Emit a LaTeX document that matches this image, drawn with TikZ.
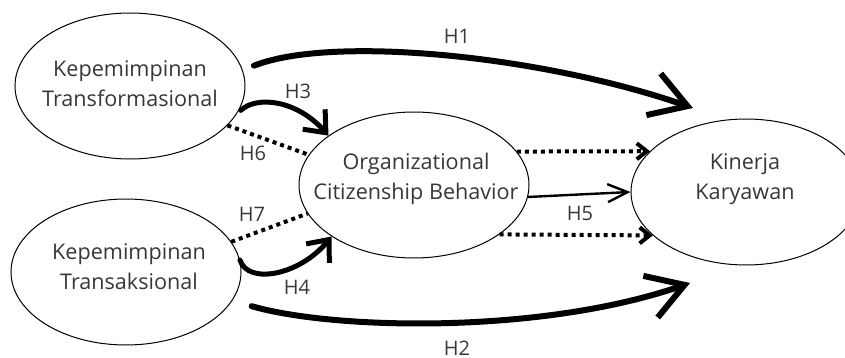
\documentclass[tikz,border=0pt]{standalone}
\usepackage{fontspec}
\setmainfont{Open Sans}
\usetikzlibrary{arrows.meta, shapes.geometric}

\begin{document}
\begin{tikzpicture}[x=0.5pt, y=-0.5pt,
    var/.style={draw, ellipse, line width=0.5pt, minimum width=115pt, minimum height=73pt, inner sep=0pt},
    vartext/.style={align=center, text={rgb, 255:red, 55; green, 55; blue, 55}, font=\fontsize{10.8}{15}\selectfont, inner sep=0pt},
    hyp/.style={text={rgb, 255:red, 55; green, 55; blue, 55}, font=\fontsize{10}{12}\selectfont, inner sep=0.75pt},
    bigarrow/.style={line width=3pt, line cap=round, -{Straight Barb[length=18pt, width=22pt]}},
    midarrow/.style={line width=2.5pt, line cap=round, -{Straight Barb[length=9pt, width=15pt]}},
    thinarrow/.style={line width=1.2pt, -{Straight Barb[length=10pt, width=9pt]}},
    dotarrow/.style={line width=2pt, dash pattern=on 2pt off 2pt, -{Straight Barb[length=5pt, width=8pt]}},
    dotline/.style={line width=2pt, dash pattern=on 2pt off 2pt}]

\useasboundingbox (0,0) rectangle (845,358);
\clip (0,0) rectangle (845,358);

\node [var] (trf) at (130,86) {};
\node [var] (trs) at (126,272) {};
\node [var] (ocb) at (414,185) {};
\node [var] (kin) at (746,192) {};

\node [vartext] (trf-txt) at (130,84) {Kepemimpinan\\Transformasional};
\node [vartext] (trs-txt) at (129,267) {Kepemimpinan\\Transaksional};
\node [vartext] (ocb-txt) at (416,179) {Organizational\\Citizenship Behavior};
\node [vartext] (kin-txt) at (745,179) {Kinerja\\Karyawan};

\coordinate (h1tip) at (693,108);
\coordinate (h2tip) at (690,283);

\draw [bigarrow, shorten <=6pt] (trf.8) .. controls +(88,-35) and +(-153,-53) .. (h1tip);
\draw [bigarrow, shorten <=10pt] (trs.-15) .. controls +(99,29) and +(-150,52) .. (h2tip);
\draw [midarrow, shorten <=3pt] (trf.-15) .. controls +(20,-19) and +(-32,-36) .. (ocb.150);
\draw [midarrow] (trs.6) .. controls +(8,25) and +(-32,39) .. (ocb.212);
\draw [dotline] (trf.-22) -- (ocb.164);
\draw [dotline] (trs.16) -- (ocb.195);
\draw [dotarrow] (ocb.18) -- (kin.157);
\draw [dotarrow] (ocb.-30) -- (kin.205);
\draw [thinarrow] (ocb.-6) -- (kin.180);

\node [hyp] (h1) at (457,36) {H1};
\node [hyp] (h2) at (457,348) {H2};
\node [hyp] (h3) at (298,91) {H3};
\node [hyp] (h4) at (297,287) {H4};
\node [hyp] (h5) at (580,213) {H5};
\node [hyp] (h6) at (253,153) {H6};
\node [hyp] (h7) at (252,214) {H7};

\end{tikzpicture}
\end{document}
